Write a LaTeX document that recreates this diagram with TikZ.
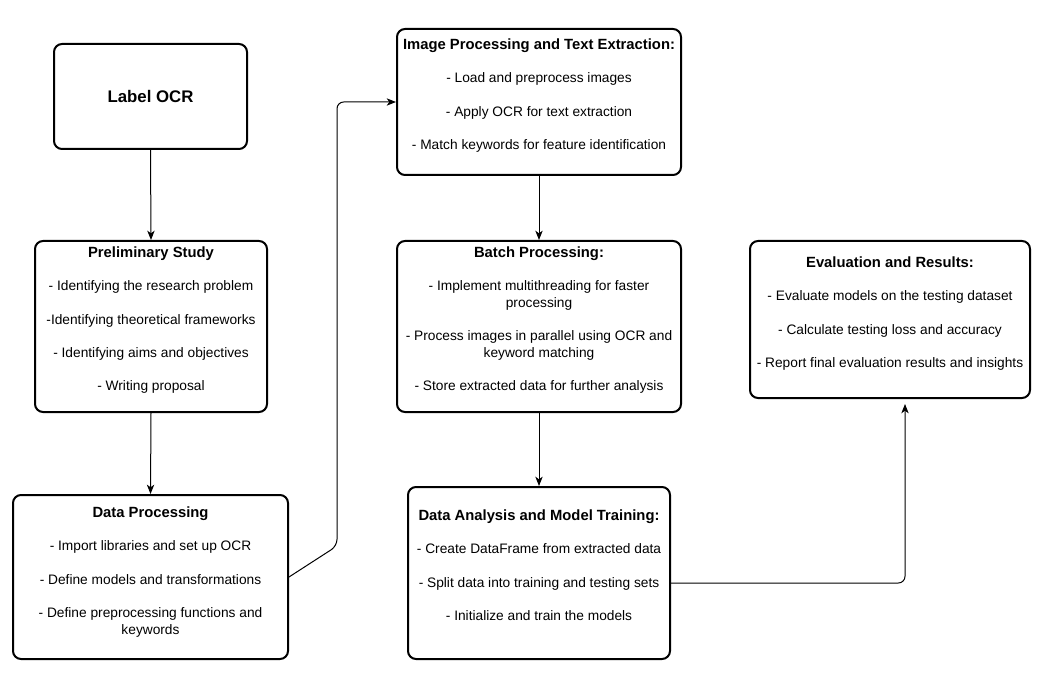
\documentclass[tikz,border=0pt]{standalone}
\usepackage{fontspec}
\setmainfont{Liberation Sans}
\usetikzlibrary{arrows.meta}
\newcommand{\ttl}[1]{{\fontsize{11.1}{12.4}\selectfont\bfseries #1}}
\begin{document}
\begin{tikzpicture}[x=0.75pt,y=-0.75pt,
 box/.style={draw, line width=1.5pt, rounded corners=6pt, inner sep=0pt},
 txt/.style={inner sep=0pt, align=center, anchor=north, font=\fontsize{10.3}{12.4}\selectfont},
 arr/.style={line width=0.75pt, -{Stealth[length=7pt,width=5.5pt,inset=2pt]}, rounded corners=5pt}]
\useasboundingbox[fill=white] (0,0) rectangle (1038,677);
% boxes
\node[box, minimum width={193*0.75pt}, minimum height={105*0.75pt}, font=\fontsize{12.6}{14}\selectfont\bfseries] (lo) at (150.5,96.5) {Label OCR};
\node[box, minimum width={232*0.75pt}, minimum height={171*0.75pt}] (pre) at (151,326.5) {};
\node[box, minimum width={275*0.75pt}, minimum height={164*0.75pt}] (dp) at (150.5,577) {};
\node[box, minimum width={284*0.75pt}, minimum height={146*0.75pt}] (ip) at (539,102) {};
\node[box, minimum width={284*0.75pt}, minimum height={171*0.75pt}] (bp) at (539,326.5) {};
\node[box, minimum width={262*0.75pt}, minimum height={172*0.75pt}] (da) at (539,573) {};
\node[box, minimum width={280*0.75pt}, minimum height={157*0.75pt}] (ev) at (890,319.5) {};
% texts
\node[txt] (pret) at (151,246.5) {\ttl{Preliminary Study}\\[12.6pt]
- Identifying the research problem\\[12.6pt]
-Identifying theoretical frameworks\\[12.6pt]
- Identifying aims and objectives\\[12.6pt]
- Writing proposal};
\node[txt] (dpt) at (150.5,506.5) {\ttl{Data Processing}\\[12.6pt]
- Import libraries and set up OCR\\[12.6pt]
- Define models and transformations\\[12.6pt]
- Define preprocessing functions and\\keywords};
\node[txt] (ipt) at (539,38.5) {\ttl{Image Processing and Text Extraction:}\\[12.6pt]
- Load and preprocess images\\[12.6pt]
- Apply OCR for text extraction\\[12.6pt]
- Match keywords for feature identification};
\node[txt] (bpt) at (539,246.5) {\ttl{Batch Processing:}\\[12.6pt]
- Implement multithreading for faster\\processing\\[12.6pt]
- Process images in parallel using OCR and\\keyword matching\\[12.6pt]
- Store extracted data for further analysis};
\node[txt] (dat) at (539,509.5) {\ttl{Data Analysis and Model Training:}\\[12.6pt]
- Create DataFrame from extracted data\\[12.6pt]
- Split data into training and testing sets\\[12.6pt]
- Initialize and train the models};
\node[txt] (evt) at (890,256.5) {\ttl{Evaluation and Results:}\\[12.6pt]
- Evaluate models on the testing dataset\\[12.6pt]
- Calculate testing loss and accuracy\\[12.6pt]
- Report final evaluation results and insights};
% connectors
\draw[arr] (lo.south) -- (pre.north);
\draw[arr] (pre.south) -- (dp.north);
\draw[arr] (dp.east) -- ++(48,-31) |- (ip.west);
\draw[arr] (ip.south) -- (bp.north);
\draw[arr] (bp.south) -- (da.north);
\draw[arr] ([yshift=-7.5pt]da.east) -| ([xshift=11.25pt,yshift=-3.75pt]ev.south);
\end{tikzpicture}
\end{document}
